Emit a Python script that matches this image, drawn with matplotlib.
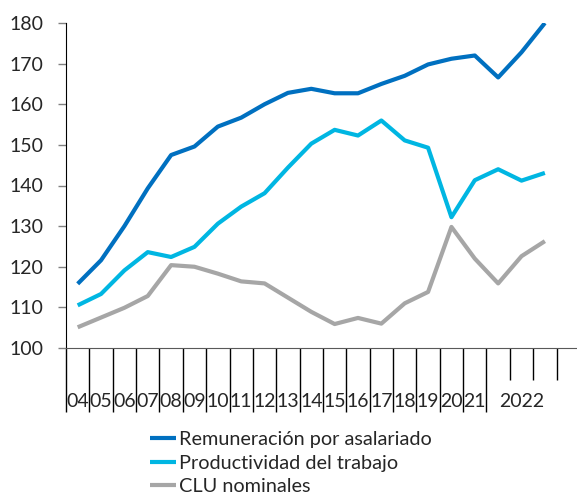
import numpy as np
import matplotlib
matplotlib.use("Agg")
import matplotlib.pyplot as plt

# ---------- Style ----------
plt.rcParams.update({
    "font.family": ["Lato", "DejaVu Sans"],
    "font.size": 14,
})

# Data (index, 2004 = first point)
labels = ["04", "05", "06", "07", "08", "09", "10", "11", "12", "13",
          "14", "15", "16", "17", "18", "19", "20", "21"]
group_label = "2022"
remuneracion = [115.8, 121.6, 130.0, 139.3, 147.5, 149.6, 154.5, 156.7, 160.0, 162.8,
                163.8, 162.7, 162.7, 165.0, 167.0, 169.8, 171.2, 172.0, 166.6, 172.8, 180.0]
productividad = [110.5, 113.3, 119.1, 123.6, 122.4, 124.9, 130.6, 134.8, 138.1, 144.4,
                 150.3, 153.7, 152.3, 156.0, 151.1, 149.3, 132.2, 141.3, 144.0, 141.2, 143.1]
clu = [105.1, 107.5, 109.9, 112.8, 120.4, 120.0, 118.3, 116.4, 115.9, 112.4,
       108.9, 105.9, 107.4, 106.0, 111.0, 113.8, 129.8, 122.0, 115.9, 122.6, 126.3]
series_names = ["Remuneración por asalariado", "Productividad del trabajo", "CLU nominales"]
colors = ["#0070C0", "#00B6E2", "#A6A6A6"]

x = np.arange(len(remuneracion))

fig = plt.figure(figsize=(5.77, 5.0), dpi=100)
ax = fig.add_axes([66 / 577, 1 - 348 / 500, 1 - 66 / 577, (348 - 23) / 500])

for vals, name, c in zip([remuneracion, productividad, clu], series_names, colors):
    ax.plot(x, vals, color=c, lw=3.0, label=name, solid_capstyle="butt")

ax.set_ylim(100, 180)
ax.set_yticks(np.arange(100, 181, 10))
ax.tick_params(axis="y", length=6, width=1, color="#808080", pad=10, labelsize=14,
               labelcolor="#262626")

ax.set_xlim(-0.5, 21.375)
n_long = len(labels)
long_ticks = np.arange(-0.5, n_long, 1.0)
short_ticks = np.arange(n_long + 0.5, len(x), 1.0)
ax.set_xticks(long_ticks)
ax.set_xticklabels([])
ax.tick_params(axis="x", which="major", length=46, width=1, color="black")
ax.set_xticks(short_ticks, minor=True)
ax.tick_params(axis="x", which="minor", length=23, width=1, color="black")

# category labels below the axis
for i, lab in enumerate(labels):
    ax.text(i, -0.181, lab, transform=ax.get_xaxis_transform(), ha="center", va="baseline",
            fontsize=14, color="#262626")
ax.text(len(x) - 2, -0.181, group_label, transform=ax.get_xaxis_transform(), ha="center",
        va="baseline", fontsize=14, color="#262626")

for s in ["top", "right"]:
    ax.spines[s].set_visible(False)
ax.spines["left"].set_color("black")
ax.spines["bottom"].set_color("#595959")

fig.legend(loc="upper left", bbox_to_anchor=(150 / 577, 1 - 431 / 500), frameon=False,
           borderpad=0, borderaxespad=0, handlelength=1.3, handletextpad=0.15,
           labelspacing=0.33, fontsize=14.3, labelcolor="#262626")

fig.savefig("out.png", dpi=100)
